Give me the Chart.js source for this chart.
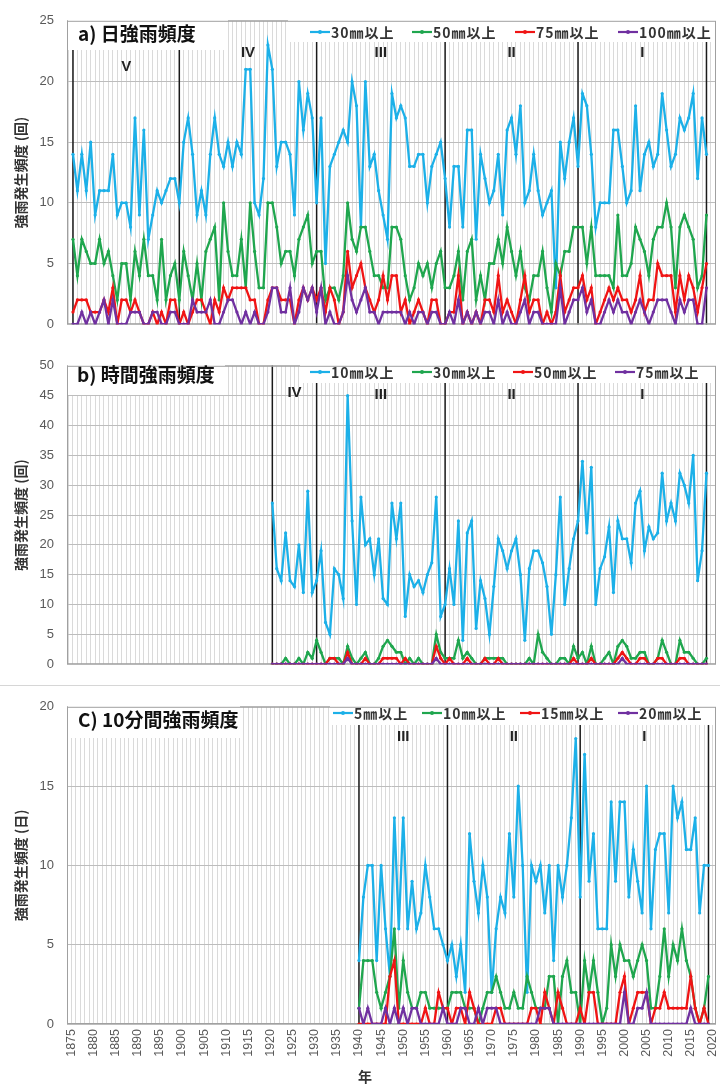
<!DOCTYPE html>
<html><head><meta charset="utf-8">
<script src="https://cdn.jsdelivr.net/npm/chart.js@4.4.1/dist/chart.umd.min.js"></script>
<style>
html,body{margin:0;padding:0;background:#fff;}
body{width:720px;height:1084px;overflow:hidden;position:relative;}
canvas{position:absolute;left:0;}
#sep{position:absolute;left:0;top:685px;width:720px;height:1px;background:#d6d6d6;}
</style></head><body>
<canvas id="ca" width="750" height="345" style="top:0px;width:750px;height:345px"></canvas>
<canvas id="cb" width="750" height="340" style="top:345px;width:750px;height:340px"></canvas>
<div id="sep"></div>
<canvas id="cc" width="750" height="398" style="top:686px;width:750px;height:398px"></canvas>
<script>
// ---------- data ----------
const dailyStart = 1876, hourlyStart = 1921, tenMinStart = 1940;
const dailyNames = ['30㎜以上','50㎜以上','75㎜以上','100㎜以上'];
const daily30 = [14,11,14,11,15,9,11,11,11,14,9,10,10,8,17,9,16,7,9,11,10,11,12,12,10,
 15,17,14,9,11,9,14,17,14,13,15,13,15,14,21,21,10,9,12,23,21,13,15,15,14,9,20,16,19,17,
 10,17,5,13,14,15,16,15,20,18,8,20,13,14,11,9,7,19,17,18,17,13,13,14,14,10,13,14,15,
 12,8,13,13,8,16,16,7,14,12,10,11,14,9,16,17,14,18,10,11,14,11,9,10,11,3,15,12,15,17,
 13,19,18,14,8,10,10,10,16,16,13,10,11,18,11,14,15,13,14,19,16,13,14,17,16,17,19,12,17,14];
const daily50 = [7,4,7,6,5,5,7,5,6,4,2,5,5,2,6,4,7,4,4,2,7,2,4,5,2,
 6,4,2,5,2,6,7,8,2,10,6,4,4,7,3,10,6,3,3,10,10,8,5,6,6,4,7,8,9,5,
 6,6,2,3,3,2,4,10,7,6,8,8,6,4,4,3,3,8,8,7,4,2,3,5,4,5,3,5,6,
 3,3,4,6,2,6,7,2,4,2,5,5,7,5,8,6,4,6,3,2,4,4,6,3,1,5,4,6,6,8,
 8,8,5,8,4,4,4,4,3,9,4,4,5,8,7,6,4,7,8,8,10,8,3,8,9,8,7,3,4,9];
const daily75 = [1,2,2,2,1,1,1,2,1,3,0,2,2,1,2,1,0,0,1,0,1,0,2,2,0,
 1,0,1,2,2,1,0,2,1,3,2,3,3,3,3,2,2,0,0,2,3,3,2,2,2,0,2,3,2,3,
 2,3,1,3,2,0,1,6,3,4,5,3,2,1,2,4,2,4,4,1,2,0,1,2,1,0,2,2,0,
 0,1,1,4,0,1,0,1,0,2,2,1,4,1,2,1,0,2,4,1,2,2,0,1,0,1,4,1,2,3,
 3,4,2,3,0,1,2,3,2,3,2,2,1,2,4,1,2,2,5,4,4,4,1,4,2,4,3,1,3,5];
const daily100 = [0,0,1,0,1,0,1,2,0,2,0,0,0,1,1,1,0,0,1,1,0,0,1,1,0,
 0,0,2,1,1,1,2,0,0,1,2,2,1,0,1,0,1,0,0,1,3,3,1,1,3,0,1,3,2,3,
 1,3,0,1,0,0,1,4,2,1,2,3,1,1,0,1,1,1,1,1,0,1,0,1,1,0,1,1,0,
 0,1,0,2,0,1,0,1,0,1,1,0,2,0,1,0,0,1,2,0,1,1,0,0,0,0,3,0,1,2,
 2,3,1,2,0,0,1,2,1,2,1,1,0,1,2,1,0,1,2,2,2,1,0,2,1,2,2,0,0,3];

const hourlyNames = ['10㎜以上','30㎜以上','50㎜以上','75㎜以上'];
const hourly10 = [27,16,14,22,14,13,20,12,29,12,
 14,19,7,5,16,15,11,45,24,10,28,20,21,15,21,11,10,27,21,27,8,15,13,14,12,15,17,28,8,
 10,16,10,24,4,22,24,6,14,11,5,13,21,19,16,19,21,15,4,16,19,19,17,13,5,15,28,10,16,21,
 24,34,22,33,10,16,18,23,12,24,21,21,17,27,29,19,23,21,22,32,24,27,24,32,30,27,35,14,19,32];
const hourly30 = [0,0,0,1,0,0,1,0,2,1,
 4,2,0,1,1,1,0,3,1,0,1,2,0,0,1,3,4,3,2,2,0,1,0,1,0,0,0,5,2,
 1,1,1,4,1,2,1,0,0,1,1,1,1,1,0,0,0,0,0,1,0,5,2,1,0,0,1,1,0,3,
 1,2,0,3,0,0,1,2,0,3,4,3,1,1,2,2,0,0,1,4,2,0,0,4,2,2,1,0,0,1];
const hourly50 = [0,0,0,0,0,0,0,0,0,0,
 0,0,0,1,1,0,0,2,0,0,0,1,0,0,0,1,1,1,1,0,1,0,0,0,0,0,0,3,1,
 0,1,0,0,0,1,0,0,0,1,0,0,1,0,0,0,0,0,0,0,0,0,0,0,0,0,0,0,0,1,
 0,0,0,1,0,0,0,0,0,1,2,1,0,0,1,1,0,0,1,1,0,0,0,1,1,0,0,0,0,0];
const hourly75 = [0,0,0,0,0,0,0,0,0,0,
 0,0,0,0,0,0,0,1,0,0,0,0,0,0,0,0,0,0,0,0,0,0,0,0,0,0,0,1,0,
 0,0,0,0,0,0,0,0,0,0,0,0,0,0,0,0,0,0,0,0,0,0,0,0,0,0,0,0,0,0,
 0,0,0,0,0,0,0,0,0,0,1,0,0,0,0,0,0,0,0,0,0,0,0,0,0,0,0,0,0,0];

const tenMinNames = ['5㎜以上','10㎜以上','15㎜以上','20㎜以上'];
const tenMin5 = [4,8,10,10,4,10,6,3,13,6,13,6,9,6,7,10,8,6,6,5,
 4,5,3,5,2,12,9,7,10,8,2,6,8,7,12,8,15,10,2,10,9,10,7,10,4,10,8,10,13,18,
 8,17,9,12,6,6,6,14,9,14,14,8,11,9,7,15,6,11,12,12,7,15,13,14,11,11,13,7,10,10];
const tenMin10 = [1,4,4,4,2,1,2,3,6,1,4,2,1,1,2,2,1,1,1,1,
 1,2,2,2,1,1,1,0,1,2,2,3,2,1,1,2,1,1,3,2,1,1,1,3,3,0,3,4,2,2,
 0,4,2,4,2,0,1,5,3,5,4,4,3,4,5,4,1,1,3,6,3,5,4,6,4,3,1,0,1,3];
const tenMin15 = [0,0,0,0,0,0,0,3,4,0,0,0,0,0,0,1,0,0,2,1,
 1,0,1,1,0,2,1,0,0,0,0,1,1,0,0,0,0,0,0,1,1,0,2,1,0,2,1,0,0,0,
 1,0,2,2,0,0,0,0,0,2,3,0,1,2,2,2,0,1,1,2,1,1,1,1,1,3,1,0,1,0];
const tenMin20 = [1,0,1,0,0,0,1,0,1,0,1,0,1,1,0,0,0,0,0,1,
 0,0,0,1,1,0,0,1,0,1,1,1,0,0,0,0,0,0,0,0,0,1,1,1,0,0,0,0,0,0,
 0,0,0,0,0,0,0,0,0,0,2,0,0,1,1,2,0,0,0,0,0,0,0,0,0,1,0,0,0,0];

const erasA = ['V','IV','III','II','I'];  const dividersA = [1876,1900,1931,1960,1990,2019];
const erasB = ['IV','III','II','I'];      const dividersB = [1921,1931,1960,1990,2019];
const erasC = ['III','II','I'];           const dividersC = [1940,1960,1990,2019];
const xLabelEvery = 5;

// ---------- styling ----------
const COLORS = ['#1CB0E8','#1FA64E','#F01414','#7030A0'];
const SANS = '"Liberation Sans", "Noto Sans CJK JP", sans-serif';
const CJK = '"Noto Sans CJK JP", sans-serif';

function pts(start, arr){ return arr.map((v,i)=>({x:start+i, y:v})); }

const decor = {
  id:'decor',
  beforeDatasetsDraw(chart, args, o){
    const {ctx, chartArea:ca} = chart; const x = chart.scales.x;
    ctx.save();
    ctx.strokeStyle = '#1a1a1a'; ctx.lineWidth = 1.5;
    o.dividers.forEach(yr=>{
      const px = x.getPixelForValue(yr);
      ctx.beginPath(); ctx.moveTo(px, ca.top); ctx.lineTo(px, ca.bottom); ctx.stroke();
    });
    ctx.fillStyle = '#fff';
    o.boxes.forEach(b=>ctx.fillRect(b[0],b[1],b[2],b[3]));
    ctx.strokeStyle = '#A0A0A0'; ctx.lineWidth = 1;
    ctx.strokeRect(ca.left+0.5, ca.top+0.5, ca.width-1, ca.height-1);
    ctx.fillStyle = '#111'; ctx.font = 'bold 19px '+CJK; ctx.textBaseline='middle'; ctx.textAlign='left';
    ctx.fillText(o.title, o.titlePos[0], o.titlePos[1]);
    ctx.font = 'bold 15px '+SANS; ctx.textAlign='center'; ctx.fillStyle='#222';
    o.eras.forEach((t,i)=>{
      const mid = (x.getPixelForValue(o.dividers[i]) + x.getPixelForValue(o.dividers[i+1]))/2;
      ctx.fillText(t, mid, o.eraY[i]);
    });
    ctx.font = 'bold 14px '+CJK; ctx.textAlign='left';
    if ('letterSpacing' in ctx) ctx.letterSpacing = '1px';
    o.names.forEach((n,i)=>{
      const lx = o.legendX[i], ly = o.legendY;
      ctx.strokeStyle = COLORS[i]; ctx.lineWidth = 2.2;
      ctx.beginPath(); ctx.moveTo(lx, ly); ctx.lineTo(lx+20, ly); ctx.stroke();
      ctx.fillStyle = COLORS[i]; ctx.beginPath(); ctx.arc(lx+10, ly, 2, 0, Math.PI*2); ctx.fill();
      ctx.fillStyle = '#333'; ctx.fillText(n, lx+21, ly+1);
    });
    if ('letterSpacing' in ctx) ctx.letterSpacing = '0px';
    if (o.xTitle){
      ctx.font = 'bold 14px '+CJK; ctx.textAlign='center'; ctx.fillStyle='#333';
      ctx.fillText(o.xTitle[0], o.xTitle[1], o.xTitle[2]);
    }
    ctx.restore();
  }
};

function makePanel(id, cfg){
  const datasets = cfg.series.map((s,i)=>({
    label: cfg.names[i], data: pts(cfg.start, s),
    borderColor: COLORS[i], backgroundColor: COLORS[i],
    borderWidth: 2.3, pointRadius: 1.6, pointBorderWidth: 0, pointBackgroundColor: COLORS[i],
    tension: 0, order: 4-i
  }));
  return new Chart(document.getElementById(id), {
    type:'line',
    data:{datasets},
    options:{
      responsive:false, animation:false, devicePixelRatio:1, events:[],
      layout:{padding:{left:0, right:34, top:cfg.padTop, bottom:cfg.padBottom}},
      plugins:{legend:{display:false}, tooltip:{enabled:false}, decor:cfg.decor},
      scales:{
        x:{type:'linear', min:cfg.xmin, max:cfg.xmax,
           grid:{color:'#DADADA', lineWidth:1, drawTicks:false},
           border:{display:false},
           ticks:{display:cfg.showX, autoSkip:false, minRotation:90, maxRotation:90, padding:5,
                  color:'#595959', font:{size:12.5, family:SANS},
                  callback:(v)=>{ const r=Math.round(v); return (Math.abs(v-r)<1e-6 && r%xLabelEvery===0) ? String(r) : ''; }},
           afterBuildTicks:(s)=>{ const t=[]; for(let v=Math.ceil(s.min); v<=Math.floor(s.max); v++) t.push({value:v}); s.ticks=t; },
           afterFit:(s)=>{ s.height = cfg.xHeight; }},
        y:{min:0, max:cfg.ymax,
           grid:{color:'#BDBDBD', lineWidth:1, drawTicks:false},
           border:{display:false},
           ticks:{stepSize:5, padding:13, color:'#595959', font:{size:13, family:SANS}},
           title:{display:true, text:cfg.yTitle, color:'#333', font:{size:14, weight:'bold', family:CJK}, padding:{top:12,bottom:0}},
           afterFit:(s)=>{ s.width = 67; }}
      }
    },
    plugins:[decor]
  });
}

makePanel('ca', {
  start: dailyStart, series:[daily30,daily50,daily75,daily100], names: dailyNames,
  xmin:1874.65, xmax:2021.15, ymax:25, padTop:16, padBottom:5, showX:false, xHeight:0,
  yTitle:'強雨発生頻度 (回)',
  decor:{ title:'a) 日強雨頻度', titlePos:[78,34], dividers:dividersA, eras:erasA, eraY:[67,53,53,53,53],
          boxes:[[68,17,160,33],[288,17,440,25]], names:dailyNames, legendX:[310,412,515,618], legendY:32 }
});
makePanel('cb', {
  start: hourlyStart, series:[hourly10,hourly30,hourly50,hourly75], names: hourlyNames,
  xmin:1874.65, xmax:2021.15, ymax:50, padTop:12, padBottom:5, showX:false, xHeight:0,
  yTitle:'強雨発生頻度 (回)',
  decor:{ title:'b) 時間強雨頻度', titlePos:[77,30], dividers:dividersB, eras:erasB, eraY:[48,50,50,50],
          boxes:[[68,13,157,37],[300,13,430,25]], names:hourlyNames, legendX:[310,412,513,615], legendY:27 }
});
makePanel('cc', {
  start: tenMinStart, series:[tenMin5,tenMin10,tenMin15,tenMin20], names: tenMinNames,
  xmin:1874, xmax:2020.7, ymax:20, padTop:14, padBottom:0, showX:true, xHeight:60,
  yTitle:'強雨発生頻度 (日)',
  decor:{ title:'C) 10分間強雨頻度', titlePos:[78,34], dividers:dividersC, eras:erasC, eraY:[51,51,51],
          boxes:[[68,15,172,37],[330,15,400,24]], names:tenMinNames, legendX:[333,422,520,618], legendY:27,
          xTitle:['年',365,391] }
});
</script>
</body></html>
